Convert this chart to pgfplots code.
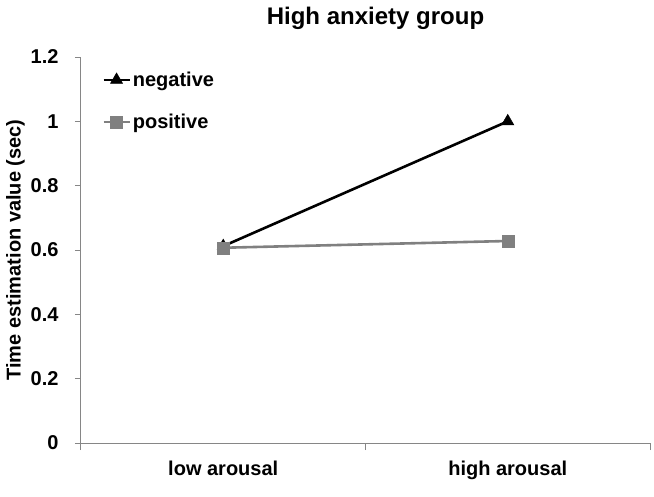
\documentclass[border=0pt]{standalone}
\usepackage{fontspec}
\setmainfont{Liberation Sans}
\usepackage{pgfplots}
\pgfplotsset{compat=1.18}
\definecolor{axgray}{HTML}{868686}
\definecolor{posgray}{HTML}{808080}
\begin{document}
\begin{tikzpicture}
\begin{axis}[
    scale only axis,
    width=569pt, height=386pt,
    xmin=-0.5, xmax=1.5,
    ymin=0, ymax=1.2,
    axis x line=bottom, axis y line=left,
    axis line style={axgray, line width=1pt, -},
    xtick={0,1},
    xticklabels={low arousal, high arousal},
    major x tick style={draw=none},
    minor xtick={-0.5,0.5,1.5},
    minor x tick style={axgray, line width=1pt},
    minor tick length=7pt,
    ytick={0,0.2,...,1.2},
    y tick style={axgray, line width=1pt},
    major tick length=6pt,
    tick align=outside,
    /pgf/number format/fixed,
    /pgf/number format/precision=1,
    /pgf/number format/assume math mode=true,
    every tick label/.append style={font=\fontsize{20}{24}\selectfont\bfseries},
    xticklabel style={yshift=-8pt},
    yticklabel style={xshift=-13pt},
    ylabel={Time estimation value (sec)},
    ylabel style={font=\fontsize{20}{24}\selectfont\bfseries, yshift=-1pt},
    title={High anxiety group},
    title style={font=\fontsize{24}{28}\selectfont\bfseries, xshift=10pt, yshift=18pt},
    legend style={at={(0.037,0.967)}, anchor=north west, draw=none, fill=none,
        font=\fontsize{20}{24}\selectfont\bfseries, row sep=22pt, inner sep=0pt},
    legend cell align=left,
    legend image code/.code={
        \draw[mark repeat=2, mark phase=2] plot coordinates {(0pt,0pt) (13pt,0pt) (26pt,0pt)};},
    clip=false,
]
\addplot[black, line width=2.6pt, mark=triangle*, mark size=7pt, mark options={line width=0.5pt}]
    coordinates {(0,0.612) (1,1.0)};
\addlegendentry{negative}
\addplot[posgray, line width=2.6pt, mark=square*, mark size=6pt, mark options={line width=0.5pt}]
    coordinates {(0,0.607) (1,0.628)};
\addlegendentry{positive}
\end{axis}
\pgfresetboundingbox
\path ([xshift=-81pt,yshift=-53pt]current axis.south west) rectangle ([xshift=4pt,yshift=57pt]current axis.north east);
\end{tikzpicture}
\end{document}
